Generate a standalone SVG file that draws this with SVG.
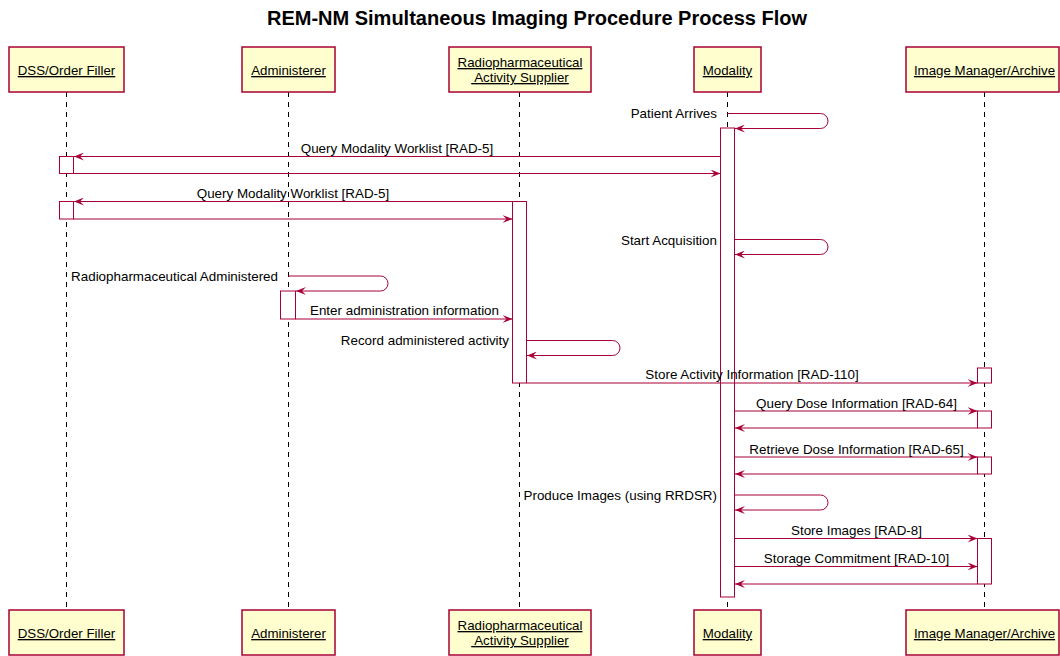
<svg xmlns="http://www.w3.org/2000/svg" width="1060" height="656" viewBox="0 0 1060 656">
<style>
.box{fill:#FEFECE;stroke:#A80036;stroke-width:1.5}
.act{fill:#FFFFFF;stroke:#A80036;stroke-width:1}
.life{stroke:#000;stroke-width:1;stroke-dasharray:5,5;fill:none}
.msg{stroke:#A80036;stroke-width:1;fill:none}
.pt{font-family:"Liberation Sans",Arial,sans-serif;font-size:13.3px;fill:#000;text-anchor:middle;text-decoration:underline}
.lbl{font-family:"Liberation Sans",Arial,sans-serif;font-size:13.4px;fill:#000;text-anchor:middle}
.rl{font-family:"Liberation Sans",Arial,sans-serif;font-size:13.4px;fill:#000;text-anchor:end}
.title{font-family:"Liberation Sans",Arial,sans-serif;font-size:20px;font-weight:bold;fill:#000;text-anchor:middle}
</style>
<defs>
<marker id="arr" viewBox="0 0 10 8" refX="10" refY="4" markerWidth="10" markerHeight="8" markerUnits="userSpaceOnUse" orient="auto">
<path d="M0,0 L10,4 L0,8 L4,4 Z" fill="#A80036"/>
</marker>
</defs>
<rect width="1060" height="656" fill="#FFFFFF"/>
<text class="title" x="537" y="25">REM-NM Simultaneous Imaging Procedure Process Flow</text>

<g id="lifelines">
<line class="life" x1="66.5" y1="92" x2="66.5" y2="610"/>
<line class="life" x1="288.5" y1="92" x2="288.5" y2="610"/>
<line class="life" x1="519.5" y1="92" x2="519.5" y2="610"/>
<line class="life" x1="727.5" y1="92" x2="727.5" y2="610"/>
<line class="life" x1="984.5" y1="92" x2="984.5" y2="610"/>
</g>

<g id="dss">
<rect class="box" x="9" y="47" width="115" height="45"/>
<text class="pt" x="66.5" y="75">DSS/Order Filler</text>
<rect class="box" x="9" y="610" width="115" height="45"/>
<text class="pt" x="66.5" y="638">DSS/Order Filler</text>
</g>
<g id="administerer">
<rect class="box" x="242" y="47" width="93" height="45"/>
<text class="pt" x="288.5" y="75">Administerer</text>
<rect class="box" x="242" y="610" width="93" height="45"/>
<text class="pt" x="288.5" y="638">Administerer</text>
</g>
<g id="supplier">
<rect class="box" x="449" y="47" width="142" height="45"/>
<text class="pt" x="520" y="67">Radiopharmaceutical</text>
<text class="pt" x="520" y="82" xml:space="preserve"> Activity Supplier</text>
<rect class="box" x="449" y="610" width="142" height="45"/>
<text class="pt" x="520" y="630">Radiopharmaceutical</text>
<text class="pt" x="520" y="645" xml:space="preserve"> Activity Supplier</text>
</g>
<g id="modality">
<rect class="box" x="694" y="47" width="67" height="45"/>
<text class="pt" x="727.5" y="75">Modality</text>
<rect class="box" x="694" y="610" width="67" height="45"/>
<text class="pt" x="727.5" y="638">Modality</text>
</g>
<g id="archive">
<rect class="box" x="906" y="47" width="153" height="45"/>
<text class="pt" x="984.5" y="75">Image Manager/Archive</text>
<rect class="box" x="906" y="610" width="153" height="45"/>
<text class="pt" x="984.5" y="638">Image Manager/Archive</text>
</g>

<g id="activations">
<rect class="act" x="720.5" y="128" width="14" height="469"/>
<rect class="act" x="59.5" y="156.5" width="14" height="17"/>
<rect class="act" x="59.5" y="201.5" width="14" height="17.5"/>
<rect class="act" x="512.5" y="201.5" width="14" height="181.5"/>
<rect class="act" x="280.5" y="291" width="15" height="28"/>
<rect class="act" x="977.5" y="368" width="14" height="15"/>
<rect class="act" x="977.5" y="411" width="14" height="17"/>
<rect class="act" x="977.5" y="457" width="14" height="17"/>
<rect class="act" x="977.5" y="538.5" width="14" height="45.5"/>
</g>

<g id="connectors">
<path class="msg" d="M727.5,113.5 H820.5 A7.5,7.5 0 0 1 820.5,128.5 H735" marker-end="url(#arr)"/>
<text class="rl" x="717" y="118">Patient Arrives</text>

<line class="msg" x1="720.5" y1="156.5" x2="74" y2="156.5" marker-end="url(#arr)"/>
<text class="lbl" x="397" y="152.5">Query Modality Worklist [RAD-5]</text>
<line class="msg" x1="73.5" y1="173.5" x2="720.5" y2="173.5" marker-end="url(#arr)"/>

<line class="msg" x1="512.5" y1="201.5" x2="74" y2="201.5" marker-end="url(#arr)"/>
<text class="lbl" x="293" y="197.5">Query Modality Worklist [RAD-5]</text>
<line class="msg" x1="73.5" y1="219" x2="512.5" y2="219" marker-end="url(#arr)"/>

<path class="msg" d="M734.5,239.5 H820.5 A7.5,7.5 0 0 1 820.5,254.5 H735" marker-end="url(#arr)"/>
<text class="rl" x="717" y="244.5">Start Acquisition</text>

<path class="msg" d="M288.5,276 H380.5 A7.5,7.5 0 0 1 380.5,291 H296" marker-end="url(#arr)"/>
<text class="rl" x="278" y="280.5">Radiopharmaceutical Administered</text>

<line class="msg" x1="295.5" y1="319" x2="512.5" y2="319" marker-end="url(#arr)"/>
<text class="lbl" x="404.5" y="315">Enter administration information</text>

<path class="msg" d="M526.5,340.5 H612.5 A7.5,7.5 0 0 1 612.5,355.5 H527" marker-end="url(#arr)"/>
<text class="rl" x="509" y="345">Record administered activity</text>

<line class="msg" x1="526.5" y1="383" x2="977.5" y2="383" marker-end="url(#arr)"/>
<text class="lbl" x="752" y="379">Store Activity Information [RAD-110]</text>

<line class="msg" x1="734.5" y1="411" x2="977.5" y2="411" marker-end="url(#arr)"/>
<text class="lbl" x="856.5" y="407.5">Query Dose Information [RAD-64]</text>
<line class="msg" x1="977.5" y1="428" x2="735" y2="428" marker-end="url(#arr)"/>

<line class="msg" x1="734.5" y1="457" x2="977.5" y2="457" marker-end="url(#arr)"/>
<text class="lbl" x="856.5" y="453.5">Retrieve Dose Information [RAD-65]</text>
<line class="msg" x1="977.5" y1="474" x2="735" y2="474" marker-end="url(#arr)"/>

<path class="msg" d="M734.5,495 H820.5 A7.5,7.5 0 0 1 820.5,510 H735" marker-end="url(#arr)"/>
<text class="rl" x="717" y="499.5">Produce Images (using RRDSR)</text>

<line class="msg" x1="734.5" y1="538.5" x2="977.5" y2="538.5" marker-end="url(#arr)"/>
<text class="lbl" x="856.5" y="535">Store Images [RAD-8]</text>

<line class="msg" x1="734.5" y1="566.5" x2="977.5" y2="566.5" marker-end="url(#arr)"/>
<text class="lbl" x="856.5" y="563">Storage Commitment [RAD-10]</text>
<line class="msg" x1="977.5" y1="584" x2="735" y2="584" marker-end="url(#arr)"/>
</g>
</svg>
